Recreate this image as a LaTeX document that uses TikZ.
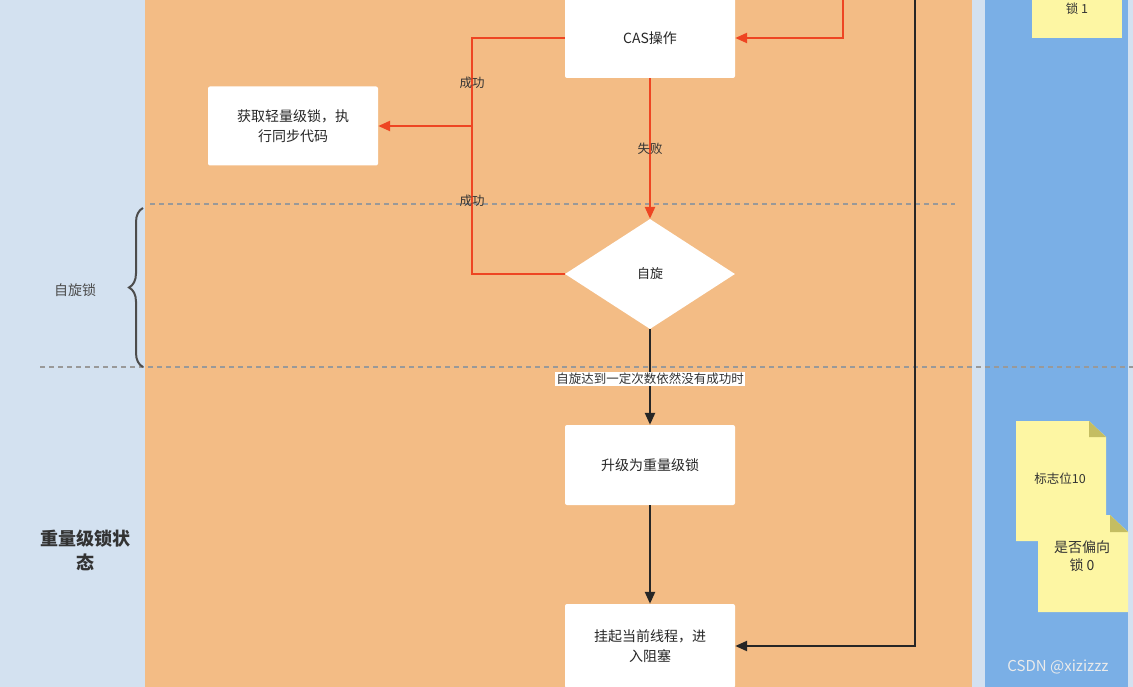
\documentclass[tikz,border=0pt]{standalone}
\usepackage{fontspec}
\setmainfont{Noto Sans CJK SC}
\usetikzlibrary{arrows.meta,shapes.geometric,decorations.pathreplacing}
\definecolor{lb}{HTML}{D3E1F0}
\definecolor{org}{HTML}{F3BC85}
\definecolor{blu}{HTML}{7AAFE6}
\definecolor{rd}{HTML}{EE4522}
\definecolor{ny}{HTML}{FDF6A3}
\definecolor{nf}{HTML}{C4BD62}
\tikzset{
 box/.style={draw=none,fill=white,rounded corners=2pt,minimum width=170pt,minimum height=80pt,align=center,font=\fontsize{14}{20}\selectfont,text=black!85},
 rl/.style={draw=rd,line width=2.4pt},
 bl/.style={draw=black!85,line width=2.4pt},
 lab/.style={font=\fontsize{12.5}{15}\selectfont,text=black!80},
 dl/.style={draw=gray!80,dashed,dash pattern=on 5pt off 4pt,line width=1.6pt},
}
\begin{document}
\begin{tikzpicture}[x=1pt,y=-1pt,>={Triangle[length=12pt,width=10pt]}]
\useasboundingbox (0,0) rectangle (1133,687);
\clip (0,0) rectangle (1133,687);
\fill[lb] (0,0) rectangle (145,687);
\fill[org] (145,0) rectangle (972,687);
\fill[lb] (972,0) rectangle (985,687);
\fill[blu] (985,0) rectangle (1128,687);
\fill[lb] (1128,0) rectangle (1133,687);
% top note
\fill[ny] (1032,-20) rectangle (1122,38);
\node[lab] (n0) at (1077,9) {锁 1};
% dashed lines
\draw[dl] (150,204) -- (955,204);
\draw[dl] (40,367) -- (1133,367);
% nodes
\node[box] (cas) at (650,38) {CAS操作};
\node[box,minimum height=79pt] (light) at (293,126) {获取轻量级锁，执\\行同步代码};
\node[diamond,fill=white,minimum width=170pt,minimum height=110pt,inner sep=0pt,font=\fontsize{13}{15}\selectfont,text=black!85] (spin) at (650,274) {自旋};
\node[box] (heavy) at (650,465) {升级为重量级锁};
\node[box,minimum height=84pt] (hang) at (650,646) {挂起当前线程，进\\入阻塞};
% red connectors
\coordinate (rt) at (843,-5);
\draw[rl,->] (rt) |- (cas.east);
\coordinate (c1) at (472,38);
\coordinate (c2) at (472,274);
\coordinate (c3) at (472,126);
\draw[rl] (cas.west) -- (c1) -- (c2) -- (spin.west);
\draw[rl,->] (c3) -- (light.east);
\node[lab] (s1) at (472,83) {成功};
\node[lab] (s2) at (472,201) {成功};
\draw[rl,->] (cas.south) -- (spin.north) node[lab,pos=0.5] {失败};
% black connectors
\coordinate (bt) at (915,-5);
\draw[bl,->] (bt) |- (hang.east);
\draw[bl,->] (spin.south) -- (heavy.north);
\node[lab,fill=white,inner sep=1pt] (cond) at (650,379) {自旋达到一定次数依然没有成功时};
\draw[bl,->] (heavy.south) -- (hang.north);
% brace
\draw[draw=black!70,line width=2pt,decorate,decoration={brace,amplitude=14pt}] (143,367) -- (143,208) coordinate (bb);
\node[font=\fontsize{14}{16}\selectfont,text=black!70] (zx) at (75,290) {自旋锁};
\node[font=\bfseries\fontsize{18}{24}\selectfont,text=black!80,align=center] (hs) at (85,550) {重量级锁状\\态};
% notes
\fill[ny] (1016,421) -- (1089,421) -- (1106,437) -- (1106,541) -- (1016,541) -- cycle;
\fill[nf] (1089,421) -- (1106,437) -- (1089,437) -- cycle;
\node[lab] (t1) at (1060,479) {标志位10};
\fill[ny] (1038,515) -- (1110,515) -- (1128,532) -- (1128,612) -- (1038,612) -- cycle;
\fill[nf] (1110,515) -- (1128,532) -- (1110,532) -- cycle;
\node[font=\fontsize{14}{18}\selectfont,text=black!80,align=center] (t2) at (1082,556) {是否偏向\\锁 0};
\node[font=\fontsize{15}{17}\selectfont,text=white!92!black] (wm) at (1058,667) {CSDN @xizizzz};
\end{tikzpicture}
\end{document}
